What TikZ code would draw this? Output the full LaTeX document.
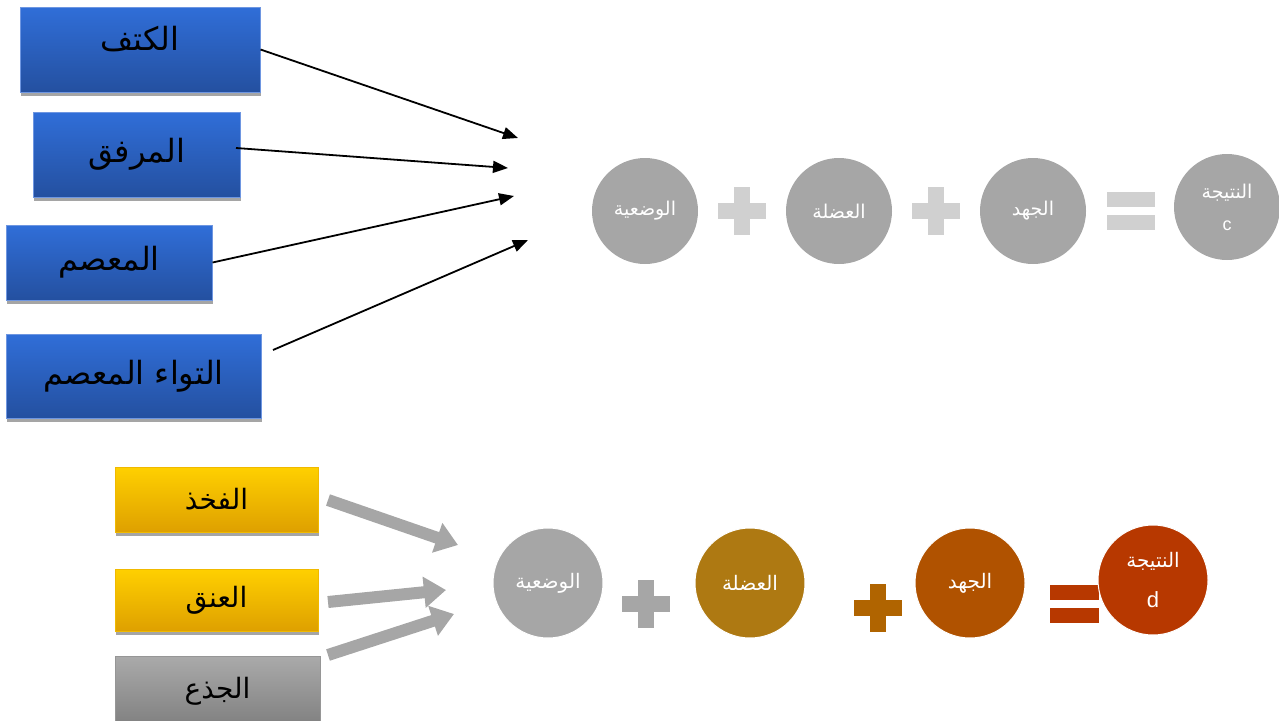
\documentclass[tikz,border=0pt]{standalone}
\usepackage{fontspec}
\setmainfont{Liberation Sans}
\newfontfamily\arabicfont[Script=Arabic]{DejaVu Sans}
\TeXXeTstate=1
\usetikzlibrary{arrows.meta,shadows}
\definecolor{blueT}{RGB}{48,110,216}
\definecolor{blueB}{RGB}{36,80,160}
\definecolor{blueE}{RGB}{110,150,225}
\definecolor{yelT}{RGB}{255,208,0}
\definecolor{yelB}{RGB}{222,160,0}
\definecolor{yelE}{RGB}{240,185,0}
\definecolor{grT}{RGB}{170,170,170}
\definecolor{grB}{RGB}{128,128,128}
\definecolor{grE}{RGB}{150,150,150}
\definecolor{circgray}{RGB}{166,166,166}
\definecolor{pluslight}{RGB}{208,208,208}
\definecolor{muscle}{RGB}{174,121,18}
\definecolor{effort}{RGB}{176,82,0}
\definecolor{result}{RGB}{183,56,0}
\definecolor{plusbrown}{RGB}{176,100,0}
\definecolor{shadowc}{RGB}{165,165,165}
\newcommand\myplus[3]{%
  \fill[#3] (#1-24,#2-8) rectangle (#1+24,#2+8);
  \fill[#3] (#1-8,#2-24) rectangle (#1+8,#2+24);}
\newcommand\myequal[4]{% left x, top y of upper bar, width, colour
  \fill[#4] (#1,#2) rectangle (#1+#3,#2+15);
  \fill[#4] (#1,#2+23) rectangle (#1+#3,#2+38);}
\begin{document}
\begin{tikzpicture}[x=1pt,y=-1pt,
  bluebox/.style={rectangle, draw=blueE, line width=1pt, top color=blueT, bottom color=blueB,
    inner sep=0pt, font=\arabicfont\fontsize{32}{36}\selectfont, text=black,
    drop shadow={shadow xshift=1pt, shadow yshift=-4pt, fill=shadowc, opacity=1}},
  yelbox/.style={rectangle, draw=yelE, line width=1pt, top color=yelT, bottom color=yelB,
    inner sep=0pt, font=\arabicfont\fontsize{28}{32}\selectfont, text=black,
    drop shadow={shadow xshift=1pt, shadow yshift=-4pt, fill=shadowc, opacity=1}},
  graybox/.style={rectangle, draw=grE, line width=1pt, top color=grT, bottom color=grB,
    inner sep=0pt, font=\arabicfont\fontsize{28}{32}\selectfont, text=black},
  topcirc/.style={circle, fill=circgray, minimum size=106pt, inner sep=0pt, text=white,
    font=\arabicfont\fontsize{19}{32}\selectfont, align=center},
  botcirc/.style={circle, fill=#1, draw=white, line width=1pt, minimum size=110pt, inner sep=0pt, text=white,
    font=\arabicfont\fontsize{20}{40}\selectfont, align=center},
  thinarrow/.style={black, line width=1.8pt, -{Triangle[width=12pt,length=15pt]}},
  fatarrow/.style={circgray, line width=12pt, -{Triangle[width=30pt,length=22pt]}}
]
\useasboundingbox (0,0) rectangle (1279,720);

% upper boxes
\node[bluebox, minimum width=240pt, minimum height=85pt, text depth=22pt] (b1) at (140,49.5) {\beginR الكتف\endR};
\node[bluebox, minimum width=207pt, minimum height=85pt] (b2) at (136.5,154.5) {\beginR المرفق\endR};
\node[bluebox, minimum width=206pt, minimum height=75pt] (b3) at (109,262.5) {\beginR المعصم\endR};
\node[bluebox, minimum width=255pt, minimum height=84pt] (b4) at (133.5,376) {\beginR التواء المعصم\endR};

\coordinate (s2) at (236,148);
\coordinate (s4) at (273,350);
\coordinate (t1) at (518,138);
\coordinate (t2) at (508,168);
\coordinate (t3) at (514,196);
\coordinate (t4) at (528,240);
\draw[thinarrow] (b1.east) -- (t1);
\draw[thinarrow] (s2) -- (t2);
\draw[thinarrow] (b3.east) -- (t3);
\draw[thinarrow] (s4) -- (t4);

% upper equation
\node[topcirc] (c1) at (645,211) {\beginR الوضعية\endR};
\node[topcirc] (c2) at (839,211) {\beginR العضلة\endR};
\node[topcirc] (c3) at (1033,211) {\beginR الجهد\endR};
\node[topcirc] (c4) at (1227,207) {\beginR النتيجة\endR\\{\fontspec{Liberation Sans}\fontsize{18}{20}\selectfont c}};
\myplus{742}{211}{pluslight}
\myplus{936}{211}{pluslight}
\myequal{1107}{192}{48}{pluslight}

% lower boxes
\node[yelbox, minimum width=203pt, minimum height=65pt] (y1) at (216.5,499.5) {\beginR الفخذ\endR};
\node[yelbox, minimum width=203pt, minimum height=62pt] (y2) at (216.5,600) {\beginR العنق\endR};
\node[graybox, minimum width=205pt, minimum height=70pt] (g1) at (217.5,691) {\beginR الجذع\endR};

\coordinate (f1s) at (328,500);
\coordinate (f2s) at (328,602);
\coordinate (f3s) at (328,655);
\coordinate (f1t) at (458,545);
\coordinate (f2t) at (446,590);
\coordinate (f3t) at (454,614);
\draw[fatarrow] (f1s) -- (f1t);
\draw[fatarrow] (f2s) -- (f2t);
\draw[fatarrow] (f3s) -- (f3t);

% lower equation
\myplus{646}{604}{circgray}
\myplus{878}{608}{plusbrown}
\myequal{1050}{585}{49}{result}
\node[botcirc=circgray] (d1) at (548,583) {\beginR الوضعية\endR};
\node[botcirc=muscle] (d2) at (750,583) {\beginR العضلة\endR};
\node[botcirc=effort] (d3) at (970,583) {\beginR الجهد\endR};
\node[botcirc=result] (d4) at (1153,580) {\beginR النتيجة\endR\\{\fontspec{Liberation Sans}\fontsize{22}{24}\selectfont d}};
\end{tikzpicture}
\end{document}
